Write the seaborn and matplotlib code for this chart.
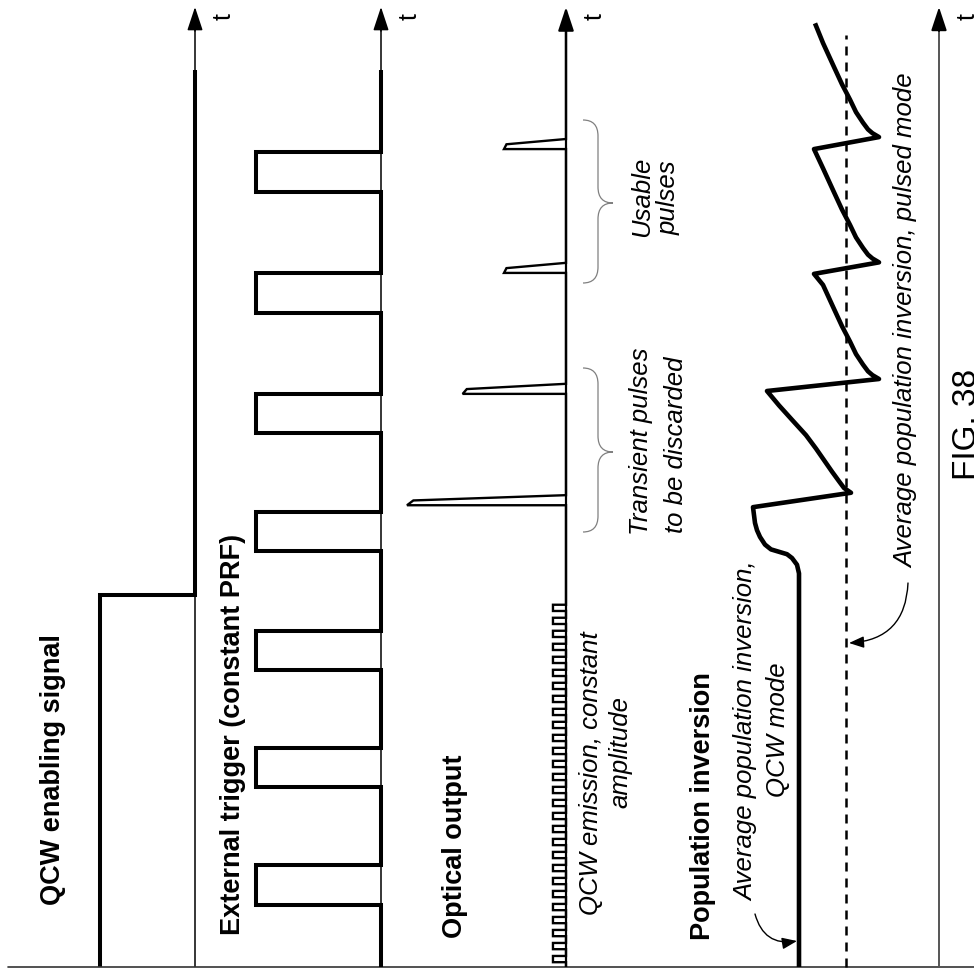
import numpy as np
import pandas as pd
import matplotlib
matplotlib.use("Agg")
import matplotlib.pyplot as plt
import seaborn as sns
from matplotlib.path import Path
from matplotlib.patches import PathPatch

sns.set_theme(style="white")
plt.rcParams["font.family"] = ["Liberation Sans", "DejaVu Sans"]

# ---------------- data (time in arbitrary units, amplitude in relative units) ----------------
t_top = 100.0            # time at the arrow tip of every axis
t_signal_end = 93.4      # where the drawn signals stop

# QCW enabling signal
qcw_level = 1.0
qcw_t_off = 38.75

# External trigger (constant PRF)
trig_level = 1.0
trig_starts = [6.5, 18.75, 30.95, 43.3, 55.6, 68.15, 80.75]
trig_width = 4.1

# Optical output: QCW emission ripple (constant amplitude) and Q-switched pulses
ripple_start = 0.5
ripple_period = 1.355
ripple_on = 0.65
ripple_count = 28
ripple_amp = 0.082
pulse_t = [48.1, 59.7, 72.3, 85.2]
pulse_amp = [1.0, 0.65, 0.39, 0.39]
optical_end = 97.5

# Population inversion
pop_t = [0.0, 41.0, 41.9, 42.6, 43.0, 43.25, 43.5, 44.0, 44.8, 45.5, 46.25, 47.9,
         49.4, 49.9, 50.6, 51.6, 52.8, 54.0, 55.4, 57.0, 58.5, 60.0,
         61.25, 61.65, 62.05, 62.75, 63.85, 65.15, 66.75, 68.55, 71.05, 72.2,
         73.4, 73.8, 74.2, 74.9, 76.0, 77.3, 78.9, 80.7, 83.2, 85.2,
         86.45, 86.85, 87.25, 87.95, 89.05, 90.35, 91.95, 93.75, 96.25, 98.3]
pop_amp = [1.40, 1.40, 1.42, 1.47, 1.52, 1.60, 1.68, 1.74, 1.79, 1.82, 1.84, 1.86,
           0.88, 0.95, 1.00, 1.07, 1.15, 1.23, 1.33, 1.47, 1.60, 1.72,
           0.60, 0.665, 0.71, 0.76, 0.83, 0.89, 0.97, 1.05, 1.16, 1.25,
           0.60, 0.665, 0.71, 0.76, 0.83, 0.89, 0.97, 1.05, 1.16, 1.25,
           0.60, 0.665, 0.71, 0.76, 0.83, 0.89, 0.97, 1.05, 1.16, 1.24]
pop_avg_pulsed = 0.93
pop_avg_end = 97.1

# ---------------- layout ----------------
W, H = 974, 971
T_PX = 9.6        # pixels per time unit
T0_PX = 967       # pixel row of t = 0

fig = plt.figure(figsize=(W / 100, H / 100), dpi=100)
fig.patch.set_facecolor("white")

# overlay axes in pixel coordinates, for annotations
ax0 = fig.add_axes([0, 0, 1, 1], facecolor="none")
ax0.set_xlim(0, W)
ax0.set_ylim(H, 0)
ax0.axis("off")


def panel_axes(base_px, px_per_unit):
    ax = fig.add_axes([0, 0, 1, 1], facecolor="none")
    return ax, (base_px, px_per_unit)


def finish(ax, cfg):
    base_px, ppu = cfg
    ax.set_xlim(base_px / ppu, -(W - base_px) / ppu)
    ax.set_ylim((T0_PX - H) / T_PX, T0_PX / T_PX)
    ax.axis("off")


def draw_axis(ax, color="black", lw=1.1):
    ax.plot([0, 0], [0, t_top - 1.5], color=color, lw=lw, solid_capstyle="butt")
    ax.annotate("", xy=(0, t_top), xytext=(0, t_top - 2.5),
                arrowprops=dict(arrowstyle="-|>,head_length=1.45,head_width=0.48",
                                mutation_scale=10, lw=lw, color="black",
                                shrinkA=0, shrinkB=0))


def line(ax, x, y, **kw):
    sns.lineplot(x=np.asarray(x, float), y=np.asarray(y, float), sort=False,
                 estimator=None, ax=ax, legend=False, **kw)


# ---- QCW enabling signal ----
ax1, c1 = panel_axes(195, 95)
draw_axis(ax1)
line(ax1, [qcw_level, qcw_level, 0, 0], [0, qcw_t_off, qcw_t_off, t_signal_end],
     color="black", linewidth=2.9, solid_joinstyle="miter", solid_capstyle="butt")
ax1.axhline(0, xmin=8 / W, xmax=1, color="#333333", lw=1.2)
finish(ax1, c1)

# ---- External trigger ----
ax2, c2 = panel_axes(381, 125)
draw_axis(ax2)
tx, ty = [0.0], [0.0]
for s in trig_starts:
    tx += [0, trig_level, trig_level, 0]
    ty += [s, s, s + trig_width, s + trig_width]
tx.append(0)
ty.append(t_signal_end)
line(ax2, tx, ty, color="black", linewidth=2.9, solid_joinstyle="miter", solid_capstyle="butt")
finish(ax2, c2)

# ---- Optical output ----
ax3, c3 = panel_axes(566, 159)
draw_axis(ax3, lw=1.6)
ox, oy = [0.0], [0.0]
for k in range(ripple_count):
    r = ripple_start + k * ripple_period
    ox += [0, ripple_amp, ripple_amp, 0]
    oy += [r, r, r + ripple_on, r + ripple_on]
for t0, a in zip(pulse_t, pulse_amp):
    ox += [0, a, 0.96 * a, 0]
    oy += [t0, t0, t0 + 0.5, t0 + 1.05]
ox.append(0)
oy.append(optical_end)
line(ax3, ox, oy, color="black", linewidth=1.7, solid_joinstyle="miter", solid_capstyle="butt")
finish(ax3, c3)

# ---- Population inversion ----
ax4, c4 = panel_axes(939, 100)
draw_axis(ax4, color="#555555", lw=1.4)
line(ax4, pop_amp, pop_t, color="black", linewidth=3.3,
     solid_joinstyle="round", solid_capstyle="butt")
line(ax4, [pop_avg_pulsed, pop_avg_pulsed], [0, pop_avg_end], color="black",
     linewidth=1.8, linestyle=(0, (3.6, 2.8)))
finish(ax4, c4)

# ---------------- annotations (pixel coordinates) ----------------
bold = dict(rotation=90, fontsize=19.5, fontweight="bold", color="black")
ital = dict(rotation=90, fontsize=18.5, fontstyle="italic", color="black")

ax0.text(52.5, 905, "QCW enabling signal", ha="center", va="bottom", **bold)
ax0.text(233.5, 935, "External trigger (constant PRF)", ha="center", va="bottom", **bold)
ax0.text(455.5, 938, "Optical output", ha="center", va="bottom", **bold)
ax0.text(702.5, 940, "Population inversion", ha="center", va="bottom", **bold)

ax0.text(591, 915, "QCW emission, constant", ha="center", va="bottom", **ital)
ax0.text(620, 752, "amplitude", ha="center", va="center", **ital)
ax0.text(641, 441, "Transient pulses", ha="center", va="center", **ital)
ax0.text(676, 445, "to be discarded", ha="center", va="center", **ital)
ax0.text(642, 197, "Usable", ha="center", va="center", **ital)
ax0.text(669, 198, "pulses", ha="center", va="center", **ital)
ax0.text(746, 731, "Average population inversion,", ha="center", va="center", **ital)
ax0.text(778, 730, "QCW mode", ha="center", va="center", **ital)
ax0.text(906, 568, "Average population inversion, pulsed mode", ha="center", va="bottom", **ital)

ax0.text(967, 480, "FIG. 38", rotation=90, fontsize=24, ha="center", va="bottom", color="black")

for base in (195, 381, 566, 939):
    ax0.text(base + 29, 17, "t", rotation=90, fontsize=18, ha="center", va="center", color="black")


# curly braces
def brace(y_top, y_mid, y_bot, x_end=583, x_mid=598, x_tip=613, r=16):
    verts = [(x_end, y_top), (x_mid, y_top), (x_mid, y_top + r),
             (x_mid, y_mid - r), (x_mid, y_mid), (x_tip, y_mid),
             (x_mid, y_mid), (x_mid, y_mid + r),
             (x_mid, y_bot - r), (x_mid, y_bot), (x_end, y_bot)]
    codes = [Path.MOVETO, Path.CURVE3, Path.CURVE3,
             Path.LINETO, Path.CURVE3, Path.CURVE3,
             Path.CURVE3, Path.CURVE3,
             Path.LINETO, Path.CURVE3, Path.CURVE3]
    ax0.add_patch(PathPatch(Path(verts, codes), fill=False, lw=0.9, edgecolor="#808080"))


brace(368, 452, 532)
brace(120, 203, 283)

# curved pointer arrows
ax0.annotate("", xy=(797, 941), xytext=(755, 914),
             arrowprops=dict(arrowstyle="-|>,head_length=0.9,head_width=0.35", mutation_scale=10,
                             connectionstyle="arc3,rad=0.45", lw=1.0, color="black",
                             shrinkA=0, shrinkB=0))
ax0.annotate("", xy=(849, 643), xytext=(908, 583),
             arrowprops=dict(arrowstyle="-|>,head_length=0.9,head_width=0.35", mutation_scale=10,
                             connectionstyle="arc3,rad=-0.45", lw=1.0, color="black",
                             shrinkA=0, shrinkB=0))

fig.savefig("out.png", dpi=100, facecolor="white")
